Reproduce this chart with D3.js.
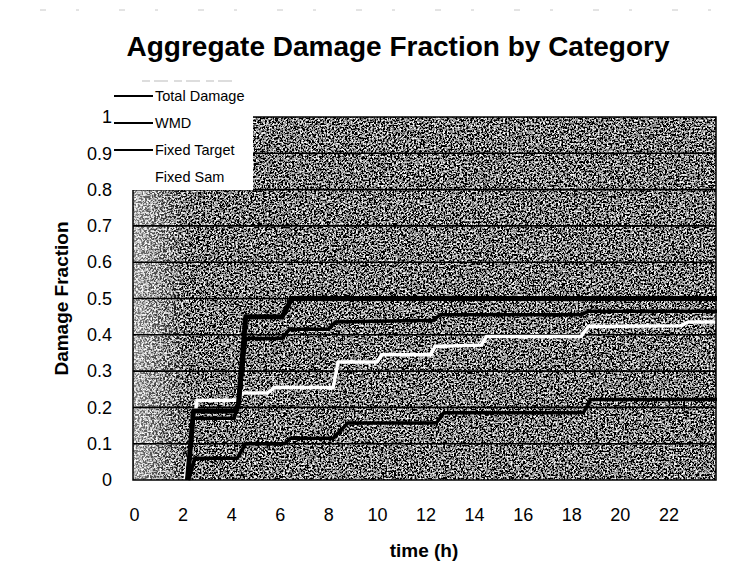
<!DOCTYPE html>
<html>
<head>
<meta charset="utf-8">
<script src="https://cdn.jsdelivr.net/npm/d3@7"></script>
<style>
  html, body { margin: 0; padding: 0; background: #fff; }
  svg { display: block; }
  text { font-family: "Liberation Sans", Arial, sans-serif; fill: #000; }
</style>
</head>
<body>
<svg id="chart" width="744" height="569"></svg>
<script>
// ---- data (time in hours, damage fraction) ----
const seriesNames = ["Total Damage", "WMD", "Fixed Target", "Fixed Sam"];
const totalDamage = [[2.2,0],[2.45,0.19],[4.15,0.19],[4.3,0.21],[4.6,0.45],[6.1,0.45],[6.5,0.5],[24,0.5]];
const wmd = [[2.2,0],[2.45,0.17],[4.1,0.17],[4.3,0.2],[4.6,0.39],[6.1,0.39],[6.4,0.415],[8.0,0.415],[8.3,0.435],[12.3,0.44],[12.6,0.455],[18.4,0.455],[18.7,0.465],[24,0.465]];
const fixedTarget = [[2.25,0],[2.5,0.06],[4.25,0.06],[4.6,0.1],[6.2,0.1],[6.45,0.115],[8.2,0.115],[8.8,0.157],[12.45,0.157],[12.75,0.185],[18.5,0.185],[18.8,0.222],[24,0.222]];
const fixedSam = [[2.1,0],[2.6,0.22],[4.2,0.22],[4.5,0.24],[5.5,0.24],[5.8,0.255],[8.2,0.255],[8.4,0.325],[10.0,0.325],[10.2,0.345],[12.2,0.345],[12.4,0.368],[14.3,0.372],[14.5,0.395],[18.4,0.395],[18.7,0.423],[22.5,0.425],[22.8,0.435],[24,0.435]];
const xTicks = [0,2,4,6,8,10,12,14,16,18,20,22];
const yTicks = [0,0.1,0.2,0.3,0.4,0.5,0.6,0.7,0.8,0.9,1];
const yTickLabels = ["0","0.1","0.2","0.3","0.4","0.5","0.6","0.7","0.8","0.9","1"];

const svg = d3.select("#chart");
const pL = 133, pR = 716, pT = 117, pB = 480;

const x = d3.scaleLinear().domain([0, 24]).range([134, 717]);
const y = d3.scaleLinear().domain([0, 1]).range([pB, pT]);

// noise filter to mimic the scanned gray fill
const defs = svg.append("defs");
const f = defs.append("filter").attr("id","noise")
  .attr("x",0).attr("y",0).attr("width","100%").attr("height","100%")
  .attr("filterUnits","objectBoundingBox");
f.append("feTurbulence").attr("type","fractalNoise").attr("baseFrequency","0.55")
  .attr("numOctaves",3).attr("seed",7).attr("result","t");
f.append("feColorMatrix").attr("type","matrix")
  .attr("values","0.33 0.33 0.33 0 0  0.33 0.33 0.33 0 0  0.33 0.33 0.33 0 0  0 0 0 0 1")
  .attr("result","g");
const ct = f.append("feComponentTransfer");
["feFuncR","feFuncG","feFuncB"].forEach(fn =>
  ct.append(fn).attr("type","linear").attr("slope",6).attr("intercept",-2.75));

// faint scan artefacts at top
svg.append("line").attr("x1",40).attr("x2",740).attr("y1",10).attr("y2",10)
  .attr("stroke","#c8c8c8").attr("stroke-width",1).attr("stroke-dasharray","6 30 3 40");

// plot background
svg.append("rect").attr("x",pL).attr("y",pT).attr("width",pR-pL).attr("height",pB-pT)
  .attr("fill","#777").attr("filter","url(#noise)");
// lighter area lower-left
const lg = defs.append("linearGradient").attr("id","lite").attr("x1",0).attr("x2",1).attr("y1",0).attr("y2",0);
lg.append("stop").attr("offset","0").attr("stop-color","#fff").attr("stop-opacity",0.5);
lg.append("stop").attr("offset","1").attr("stop-color","#fff").attr("stop-opacity",0);
svg.append("rect").attr("x",pL).attr("y",190).attr("width",55).attr("height",pB-190)
  .attr("fill","url(#lite)");

// gridlines
svg.append("g").selectAll("line").data(yTicks.slice(1,10)).join("line")
  .attr("x1",pL).attr("x2",pR).attr("y1",d=>y(d)).attr("y2",d=>y(d))
  .attr("stroke","#000").attr("stroke-width",1.6);

// series lines
const line = d3.line().x(d=>x(d[0])).y(d=>y(d[1]));
const series = [
  {name:"Fixed Sam", data:fixedSam, color:"#fff", w:3.5},
  {name:"Fixed Target", data:fixedTarget, color:"#000", w:3.5},
  {name:"WMD", data:wmd, color:"#000", w:3.5},
  {name:"Total Damage", data:totalDamage, color:"#000", w:5}
];
svg.append("g").selectAll("path").data(series).join("path")
  .attr("d",d=>line(d.data)).attr("fill","none")
  .attr("stroke",d=>d.color).attr("stroke-width",d=>d.w).attr("stroke-linejoin","round");

// plot border
svg.append("rect").attr("x",pL).attr("y",pT).attr("width",pR-pL).attr("height",pB-pT)
  .attr("fill","none").attr("stroke","#000").attr("stroke-width",1.5);

// legend box
svg.append("rect").attr("x",111).attr("y",78).attr("width",142).attr("height",112).attr("fill","#fff");
svg.append("line").attr("x1",142).attr("x2",232).attr("y1",81).attr("y2",81)
  .attr("stroke","#bbb").attr("stroke-dasharray","8 4 14 6");
const legendColors = ["#000","#000","#000","#fff"];
const legendY = [96, 123, 150, 177];
const lgG = svg.append("g");
seriesNames.forEach((n,i)=>{
  lgG.append("line").attr("x1",114).attr("x2",153).attr("y1",legendY[i]).attr("y2",legendY[i])
    .attr("stroke",legendColors[i]).attr("stroke-width",2);
  lgG.append("text").attr("x",155).attr("y",legendY[i]+5).attr("font-size",14.5).text(n);
});

// y axis labels
const yAxis = d3.axisLeft(y).tickValues(yTicks).tickSize(0).tickPadding(21)
  .tickFormat((d,i)=>yTickLabels[i]);
const gy = svg.append("g").attr("transform",`translate(${pL},0)`).call(yAxis);
gy.select(".domain").remove();
gy.selectAll("text").attr("font-size",18).attr("font-family","Liberation Sans, Arial, sans-serif").attr("fill","#000");

// x axis labels
const xAxis = d3.axisBottom(x).tickValues(xTicks).tickSize(0).tickPadding(28).tickFormat(d3.format("d"));
const gx = svg.append("g").attr("transform",`translate(0,${pB})`).call(xAxis);
gx.select(".domain").remove();
gx.selectAll("text").attr("font-size",18).attr("font-family","Liberation Sans, Arial, sans-serif").attr("fill","#000");

// titles
svg.append("text").attr("x",398).attr("y",56).attr("text-anchor","middle")
  .attr("font-size",28).attr("font-weight","bold").text("Aggregate Damage Fraction by Category");
svg.append("text").attr("transform",`translate(68,${(pT+pB)/2}) rotate(-90)`)
  .attr("text-anchor","middle").attr("font-size",19).attr("font-weight","bold").text("Damage Fraction");
svg.append("text").attr("x",424).attr("y",557).attr("text-anchor","middle")
  .attr("font-size",19).attr("font-weight","bold").text("time (h)");
</script>
</body>
</html>
